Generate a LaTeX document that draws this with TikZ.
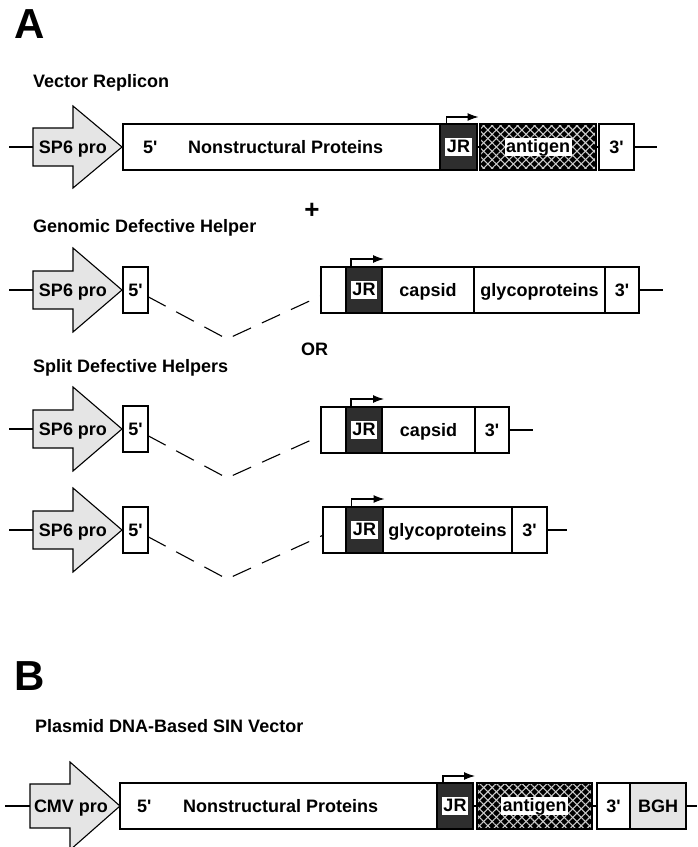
\documentclass[tikz,border=0pt]{standalone}
\usepackage{fontspec}
\setmainfont{Liberation Sans}
\usetikzlibrary{positioning,arrows.meta,patterns.meta}

\begin{document}
\begin{tikzpicture}[
        x=1pt, y=-1pt,
        every node/.style={font=\bfseries\fontsize{18}{20}\selectfont},
        title/.style={font=\bfseries\fontsize{42}{44}\selectfont, anchor=base west, inner sep=0pt},
        head/.style={anchor=base west, inner sep=0pt},
        lab/.style={inner sep=0pt, text height=12.9pt, text depth=0pt},
        seg/.style={draw, line width=1.1pt, outer sep=0pt, inner sep=0pt, minimum height=46pt, fill=white},
        jrseg/.style={seg, fill=black!82},
        agseg/.style={draw, line width=1.1pt, outer sep=0pt, inner sep=0pt, minimum height=46pt,
            preaction={fill=black},
            preaction={pattern={Lines[angle=45,distance=6pt,line width=1.1pt]}, pattern color=white!80!black},
            preaction={pattern={Lines[angle=-45,distance=6pt,line width=1.1pt]}, pattern color=white!80!black}},
        bghseg/.style={seg, fill=black!10},
        tag/.style={lab, fill=white, inner sep=1.5pt, text depth=2pt},
        prom/.style={draw, line width=1.1pt, fill=black!10},
        dna/.style={line width=1.8pt},
        splice/.style={line width=1.1pt, dash pattern=on 20pt off 12pt},
        tss/.style={line width=1.1pt, -{Latex[length=11pt,width=8pt]}}
    ]
    \useasboundingbox (0,0) rectangle (697,847);

    % panel A
    \node[title] (pa) at (14,38) {A};
    \node[head] (h1) at (33,87) {Vector Replicon};
    \node[font=\bfseries\fontsize{26}{28}\selectfont, inner sep=0pt] (plus) at (312,211) {+};
    \node[head] (h2) at (33,232) {Genomic Defective Helper};
    \node[head] (or) at (301,355) {OR};
    \node[head] (h3) at (33,372) {Split Defective Helpers};

    % vector replicon
    \draw[prom] (33,128) -- (73,128) -- (73,106) -- (122,147) -- (73,188) -- (73,166) -- (33,166) -- cycle;
    \coordinate (d1) at (9,147);
    \coordinate (t1) at (33,147);
    \draw[dna] (d1) -- (t1);
    \node[lab] (p1) at (73,147) {SP6 pro};
    \node[seg, minimum width=317pt, anchor=west] (ns1) at (123,147) {};
    \node[lab, right=20pt of ns1.west] (f1) {5\textquotesingle};
    \node[lab, right=65pt of ns1.west] (nt1) {Nonstructural Proteins};
    \node[jrseg, minimum width=37pt, right=0pt of ns1] (jr1) {};
    \node[tag] (jt1) at (jr1) {JR};
    \node[agseg, minimum width=116pt, right=3pt of jr1] (ag1) {};
    \node[tag] (at1) at (ag1) {antigen};
    \node[seg, minimum width=35pt, right=3pt of ag1] (e1) {};
    \node[lab] (tt1) at (e1) {3\textquotesingle};
    \coordinate[right=23pt of e1.east] (d1r);
    \draw[line width=1.1pt] (jr1) -- (ag1);
    \draw[line width=1.1pt] (ag1) -- (e1);
    \draw[dna] (e1) -- (d1r);
    \draw[tss] ([xshift=-12pt]jr1.north) -- ++(0,-7) -- ++(32,0);

    % defective helpers, left halves
    \foreach \r/\y in {2/290,3/429,4/530}{
        \draw[prom] (33,\y-19) -- (73,\y-19) -- (73,\y-42) -- (122,\y) -- (73,\y+42) -- (73,\y+19) -- (33,\y+19) -- cycle;
        \coordinate (d\r) at (9,\y);
        \coordinate (t\r) at (33,\y);
        \draw[dna] (d\r) -- (t\r);
        \node[lab] (p\r) at (73,\y) {SP6 pro};
        \node[seg, minimum width=25pt, anchor=west] (f\r) at (123,\y) {};
        \node[lab] (ft\r) at (f\r) {5\textquotesingle};
        \coordinate (v\r) at (227,\y+49);
    }

    % genomic helper
    \node[seg, minimum width=25pt, anchor=west] (b2) at (321,290) {};
    \node[jrseg, minimum width=36pt, right=0pt of b2] (jr2) {};
    \node[tag] (jt2) at (jr2) {JR};
    \node[seg, minimum width=92pt, right=0pt of jr2] (c2) {};
    \node[lab] (ct2) at (c2) {capsid};
    \node[seg, minimum width=131pt, right=0pt of c2] (gp2) {};
    \node[lab] (gt2) at (gp2) {glycoproteins};
    \node[seg, minimum width=34pt, right=0pt of gp2] (e2) {};
    \node[lab] (tt2) at (e2) {3\textquotesingle};
    \coordinate[right=24pt of e2.east] (d2r);
    \draw[dna] (e2) -- (d2r);
    \draw[tss] ([xshift=-13pt]jr2.north) -- ++(0,-8) -- ++(33,0);
    \draw[splice] (f2) -- (v2) -- (b2);

    % capsid helper
    \node[seg, minimum width=25pt, anchor=west] (b3) at (321,430) {};
    \node[jrseg, minimum width=36pt, right=0pt of b3] (jr3) {};
    \node[tag] (jt3) at (jr3) {JR};
    \node[seg, minimum width=93pt, right=0pt of jr3] (c3) {};
    \node[lab] (ct3) at (c3) {capsid};
    \node[seg, minimum width=34pt, right=0pt of c3] (e3) {};
    \node[lab] (tt3) at (e3) {3\textquotesingle};
    \coordinate[right=24pt of e3.east] (d3r);
    \draw[dna] (e3) -- (d3r);
    \draw[tss] ([xshift=-13pt]jr3.north) -- ++(0,-8) -- ++(33,0);
    \draw[splice] (f3) -- (v3) -- (b3);

    % glycoprotein helper
    \node[seg, minimum width=23pt, anchor=west] (b4) at (323,530) {};
    \node[jrseg, minimum width=37pt, right=0pt of b4] (jr4) {};
    \node[tag] (jt4) at (jr4) {JR};
    \node[seg, minimum width=129pt, right=0pt of jr4] (gp4) {};
    \node[lab] (gt4) at (gp4) {glycoproteins};
    \node[seg, minimum width=35pt, right=0pt of gp4] (e4) {};
    \node[lab] (tt4) at (e4) {3\textquotesingle};
    \coordinate[right=20pt of e4.east] (d4r);
    \draw[dna] (e4) -- (d4r);
    \draw[tss] ([xshift=-13pt]jr4.north) -- ++(0,-8) -- ++(33,0);
    \draw[splice] (f4) -- (v4) -- (b4);

    % panel B
    \node[title] (pb) at (14,690) {B};
    \node[head] (h5) at (35,732) {Plasmid DNA-Based SIN Vector};
    \draw[prom] (30,784) -- (70,784) -- (70,762) -- (120,806) -- (70,850) -- (70,828) -- (30,828) -- cycle;
    \coordinate (d5) at (5,806);
    \coordinate (t5) at (30,806);
    \draw[dna] (d5) -- (t5);
    \node[lab] (p5) at (71,806) {CMV pro};
    \node[seg, minimum width=317pt, anchor=west] (ns5) at (120,806) {};
    \node[lab, right=17pt of ns5.west] (f5) {5\textquotesingle};
    \node[lab, right=63pt of ns5.west] (nt5) {Nonstructural Proteins};
    \node[jrseg, minimum width=36pt, right=0pt of ns5] (jr5) {};
    \node[tag] (jt5) at (jr5) {JR};
    \node[agseg, minimum width=115pt, right=4pt of jr5] (ag5) {};
    \node[tag] (at5) at (ag5) {antigen};
    \node[seg, minimum width=33pt, right=5pt of ag5] (e5) {};
    \node[lab] (tt5) at (e5) {3\textquotesingle};
    \node[bghseg, minimum width=56pt, right=0pt of e5] (bgh) {};
    \node[lab] (bt5) at (bgh) {BGH};
    \coordinate (d5r) at (697,806);
    \draw[line width=1.1pt] (jr5) -- (ag5);
    \draw[line width=1.1pt] (ag5) -- (e5);
    \draw[dna] (bgh) -- (d5r);
    \draw[tss] ([xshift=-12pt]jr5.north) -- ++(0,-7) -- ++(32,0);
\end{tikzpicture}
\end{document}
